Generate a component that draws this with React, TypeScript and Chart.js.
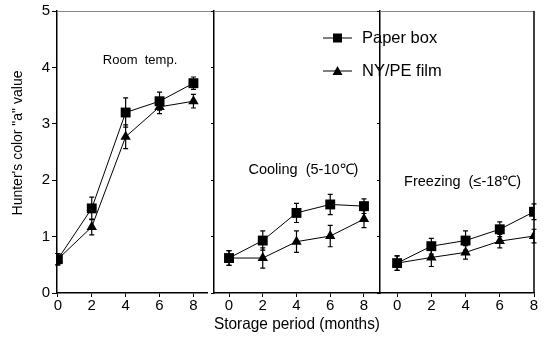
import React, { useEffect, useRef } from "react";
import { Chart, registerables } from "chart.js";

Chart.register(...registerables);

// ---------- data ----------
const months = [0, 2, 4, 6, 8];
const xTickLabels = ["0", "2", "4", "6", "8"];
const seriesNames = ["Paper box", "NY/PE film"];
const panelTitles = ["Room  temp.", "Cooling  (5-10\u2103)", "Freezing  (\u2264-18\u2103)"];
const yAxisTitle = "Hunter's color \"a\" value";
const xAxisTitle = "Storage period (months)";

const roomPaper = [0.6, 1.5, 3.2, 3.4, 3.72];
const roomPaperErr = [0.1, 0.2, 0.26, 0.16, 0.11];
const roomFilm = [0.6, 1.17, 2.77, 3.3, 3.4];
const roomFilmErr = [0.1, 0.14, 0.21, 0.12, 0.12];

const coolPaper = [0.62, 0.93, 1.42, 1.57, 1.54];
const coolPaperErr = [0.13, 0.17, 0.17, 0.18, 0.13];
const coolFilm = [0.62, 0.62, 0.91, 1.01, 1.31];
const coolFilmErr = [0.13, 0.18, 0.19, 0.19, 0.15];

const freezePaper = [0.53, 0.83, 0.93, 1.13, 1.44];
const freezePaperErr = [0.13, 0.14, 0.17, 0.13, 0.14];
const freezeFilm = [0.53, 0.63, 0.72, 0.92, 1.01];
const freezeFilmErr = [0.13, 0.16, 0.12, 0.12, 0.12];

// ---------- layout (positions / sizes) ----------
const W = 557;
const H = 340;
const FONT = "'Liberation Sans', Arial, Helvetica, sans-serif";
const TOP = 11;
const XAXIS_H = 47;

const panelLayout = [
  { left: 57, right: 207, yW: 57, xMin: -0.05, xMax: 8.8, titleAt: [4.85, 4.13], titleSize: 13 },
  { left: 214, right: 380, yW: 5, xMin: -0.89, xMax: 8.95, titleAt: [4.41, 2.18], titleSize: 14.5 },
  { left: 380, right: 534, yW: 5, xMin: -1, xMax: 8, titleAt: [3.83, 1.97], titleSize: 14.5 },
];

const panelData = [
  { paper: roomPaper, paperErr: roomPaperErr, film: roomFilm, filmErr: roomFilmErr },
  { paper: coolPaper, paperErr: coolPaperErr, film: coolFilm, filmErr: coolFilmErr },
  { paper: freezePaper, paperErr: freezePaperErr, film: freezeFilm, filmErr: freezeFilmErr },
];

const errorBarPlugin = {
  id: "errorBars",
  beforeDatasetsDraw(chart: any) {
    const ctx = chart.ctx;
    const ys = chart.scales.y;
    ctx.save();
    ctx.strokeStyle = "#000";
    ctx.lineWidth = 1.2;
    chart.data.datasets.forEach((ds: any, i: number) => {
      const meta = chart.getDatasetMeta(i);
      meta.data.forEach((pt: any, j: number) => {
        const v = ds.data[j].y;
        const e = ds.errors[j];
        const yt = ys.getPixelForValue(v + e);
        const yb = ys.getPixelForValue(v - e);
        const x = pt.x;
        ctx.beginPath();
        ctx.moveTo(x, yt);
        ctx.lineTo(x, yb);
        ctx.moveTo(x - 2.5, yt);
        ctx.lineTo(x + 2.5, yt);
        ctx.moveTo(x - 2.5, yb);
        ctx.lineTo(x + 2.5, yb);
        ctx.stroke();
      });
    });
    ctx.restore();
  },
};

function framePlugin(idx: number) {
  return {
    id: "frame" + idx,
    afterDraw(chart: any) {
      const { ctx, chartArea } = chart;
      ctx.save();
      ctx.strokeStyle = "#888";
      ctx.lineWidth = 1;
      ctx.beginPath();
      ctx.moveTo(chartArea.left, chartArea.top + 0.5);
      ctx.lineTo(chartArea.right + (idx === 0 ? 7 : 0), chartArea.top + 0.5);
      ctx.stroke();
      if (idx === 2) {
        ctx.strokeStyle = "#000";
        ctx.lineWidth = 1.5;
        ctx.beginPath();
        ctx.moveTo(chartArea.right, chartArea.top);
        ctx.lineTo(chartArea.right, chartArea.bottom);
        ctx.stroke();
      }
      ctx.restore();
    },
  };
}

function panelTitlePlugin(idx: number) {
  return {
    id: "ptitle" + idx,
    afterDraw(chart: any) {
      const { ctx, scales } = chart;
      const L = panelLayout[idx];
      ctx.save();
      ctx.fillStyle = "#000";
      ctx.font = L.titleSize + "px " + FONT;
      ctx.textAlign = "center";
      ctx.textBaseline = "middle";
      ctx.fillText(panelTitles[idx], scales.x.getPixelForValue(L.titleAt[0]), scales.y.getPixelForValue(L.titleAt[1]));
      ctx.restore();
    },
  };
}

const yTitlePlugin = {
  id: "ytitle",
  afterDraw(chart: any) {
    const { ctx } = chart;
    ctx.save();
    ctx.fillStyle = "#000";
    ctx.font = "14px " + FONT;
    ctx.textAlign = "center";
    ctx.textBaseline = "middle";
    ctx.translate(18, 143);
    ctx.rotate(-Math.PI / 2);
    ctx.fillText(yAxisTitle, 0, 0);
    ctx.restore();
  },
};

const legendPlugin = {
  id: "customLegend",
  afterDraw(chart: any) {
    const { ctx, chartArea } = chart;
    const x0 = chartArea.right - 57;
    const x1 = chartArea.right - 28;
    const xm = (x0 + x1) / 2;
    const rows = [38, 71];
    ctx.save();
    chart.data.datasets.forEach((ds: any, i: number) => {
      const y = rows[i];
      ctx.strokeStyle = "#000";
      ctx.fillStyle = "#000";
      ctx.lineWidth = 1;
      ctx.beginPath();
      ctx.moveTo(x0, y);
      ctx.lineTo(x1, y);
      ctx.stroke();
      ctx.beginPath();
      if (ds.pointStyle === "rect") {
        ctx.rect(xm - 4.5, y - 4.5, 9, 9);
      } else {
        ctx.moveTo(xm, y - 5);
        ctx.lineTo(xm + 5, y + 4);
        ctx.lineTo(xm - 5, y + 4);
        ctx.closePath();
      }
      ctx.fill();
      ctx.font = "16.5px " + FONT;
      ctx.textAlign = "left";
      ctx.textBaseline = "middle";
      ctx.fillText(ds.label, chartArea.right - 18, y);
    });
    ctx.restore();
  },
};

function makeConfig(idx: number): any {
  const L = panelLayout[idx];
  const D = panelData[idx];
  const plugins: any[] = [errorBarPlugin, framePlugin(idx), panelTitlePlugin(idx)];
  if (idx === 0) plugins.push(yTitlePlugin);
  if (idx === 1) plugins.push(legendPlugin);
  return {
    type: "line",
    data: {
      datasets: [
        {
          label: seriesNames[0],
          data: months.map((m, i) => ({ x: m, y: D.paper[i] })),
          errors: D.paperErr,
          pointStyle: "rect",
          pointRadius: 7,
          pointBorderWidth: 0,
          borderColor: "#000",
          backgroundColor: "#000",
          borderWidth: 1,
        },
        {
          label: seriesNames[1],
          data: months.map((m, i) => ({ x: m, y: D.film[i] })),
          errors: D.filmErr,
          pointStyle: "triangle",
          pointRadius: 6,
          pointBorderWidth: 0,
          borderColor: "#000",
          backgroundColor: "#000",
          borderWidth: 1,
        },
      ],
    },
    options: {
      responsive: false,
      animation: false,
      devicePixelRatio: 1,
      layout: { padding: { left: L.left - L.yW, right: W - L.right, top: TOP, bottom: 0 } },
      plugins: { legend: { display: false }, tooltip: { enabled: false } },
      scales: {
        x: {
          type: "linear",
          min: L.xMin,
          max: L.xMax,
          afterFit: (s: any) => {
            s.height = XAXIS_H;
          },
          afterBuildTicks: (s: any) => {
            s.ticks = months.map((v) => ({ value: v }));
          },
          ticks: {
            callback: (v: any) => {
              const k = months.indexOf(v);
              return k >= 0 ? xTickLabels[k] : "";
            },
            font: { size: 15, family: FONT },
            color: "#000",
            padding: 0,
            maxRotation: 0,
            autoSkip: false,
          },
          grid: { drawOnChartArea: false, tickLength: 4, color: "#000", lineWidth: 1 },
          border: { color: "#000", width: 1.5 },
          title:
            idx === 1
              ? {
                  display: true,
                  text: xAxisTitle,
                  font: { size: 16.5, family: FONT },
                  color: "#000",
                  padding: { top: 0, bottom: 6 },
                }
              : { display: false },
        },
        y: {
          type: "linear",
          min: 0,
          max: 5,
          afterFit: (s: any) => {
            s.width = L.yW;
          },
          ticks: {
            display: idx === 0,
            stepSize: 1,
            padding: 2,
            font: { size: 15, family: FONT },
            color: "#000",
          },
          grid: { drawOnChartArea: false, tickLength: idx === 0 ? 5 : 3, color: "#000", lineWidth: 1 },
          border: { color: "#000", width: 1.5 },
        },
      },
    },
    plugins,
  };
}

function Panel({ idx }: { idx: number }) {
  const ref = useRef<HTMLCanvasElement | null>(null);
  useEffect(() => {
    if (!ref.current) return;
    const chart = new Chart(ref.current, makeConfig(idx));
    return () => chart.destroy();
  }, [idx]);
  return (
    <canvas
      ref={ref}
      width={W}
      height={H}
      style={{ position: "absolute", left: 0, top: 0, width: W, height: H }}
    />
  );
}

export default function App() {
  Chart.defaults.font.family = FONT;
  Chart.defaults.color = "#000";
  return (
    <div style={{ position: "absolute", left: 0, top: 0, width: W, height: H, background: "#fff" }}>
      <Panel idx={0} />
      <Panel idx={1} />
      <Panel idx={2} />
    </div>
  );
}
